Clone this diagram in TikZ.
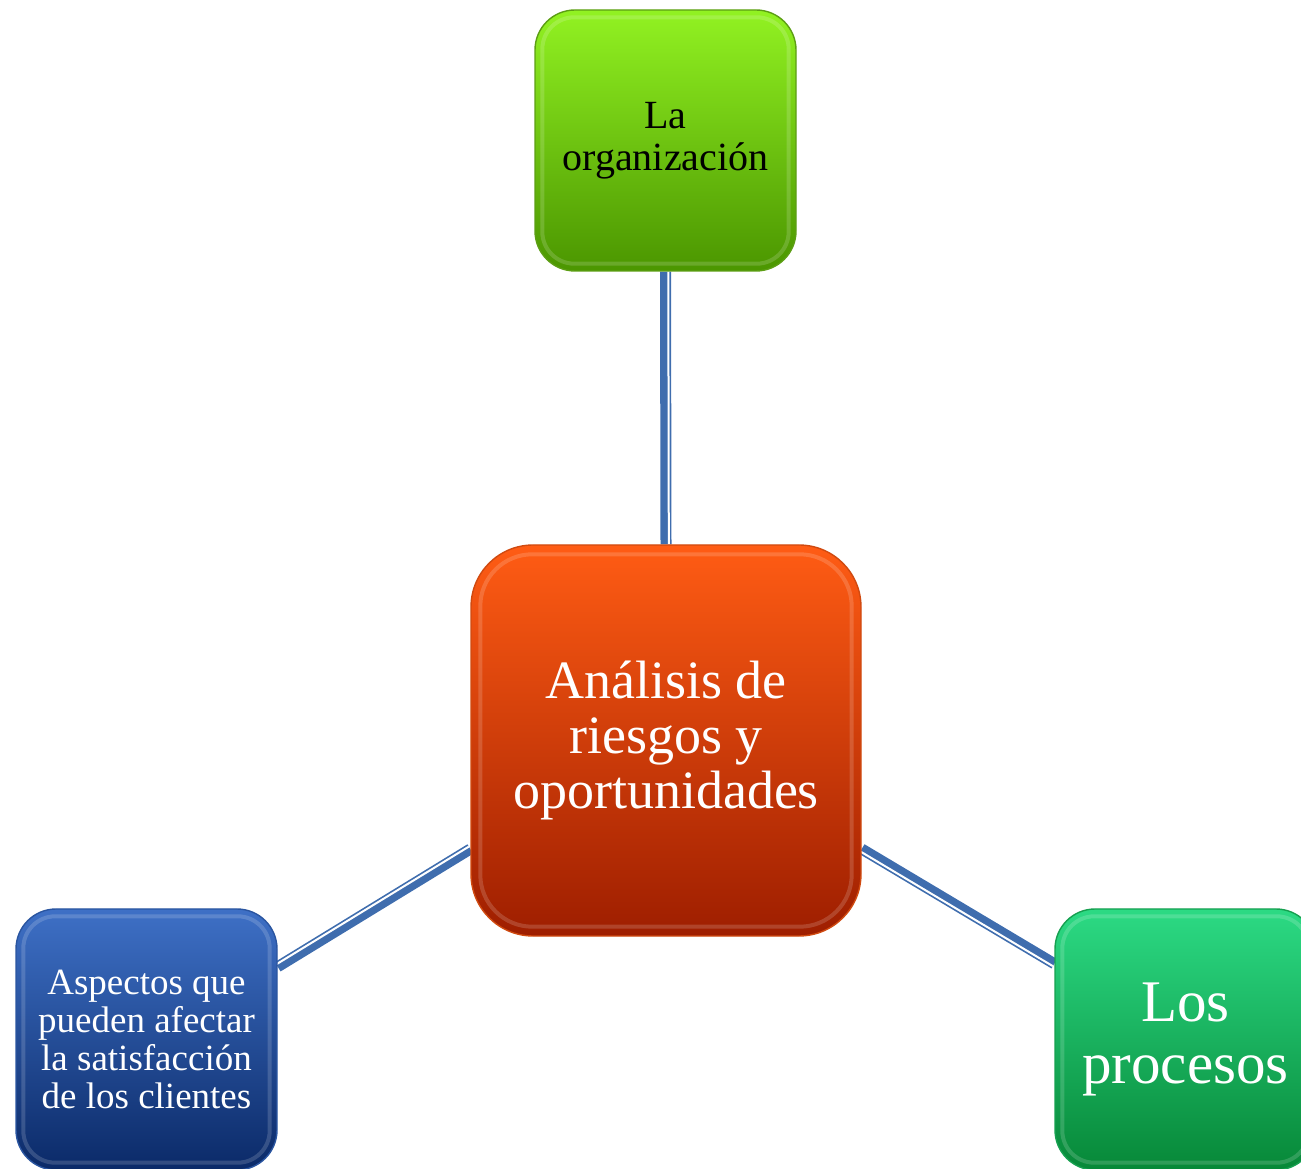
\documentclass[tikz,border=0pt]{standalone}
\usepackage{fontspec}
\setmainfont{Liberation Serif}
\usetikzlibrary{calc}
\pgfdeclarelayer{background}
\pgfsetlayers{background,main}
\definecolor{orgTop}{HTML}{92F222}
\definecolor{orgBot}{HTML}{4B9600}
\definecolor{orgLine}{HTML}{5C9E14}
\definecolor{anTop}{HTML}{FF5C14}
\definecolor{anBot}{HTML}{9E1E00}
\definecolor{anLine}{HTML}{D04A10}
\definecolor{blTop}{HTML}{3E70C6}
\definecolor{blBot}{HTML}{0B2A68}
\definecolor{blLine}{HTML}{2A55A0}
\definecolor{grTop}{HTML}{2CDA84}
\definecolor{grBot}{HTML}{078838}
\definecolor{grLine}{HTML}{16A050}
\definecolor{connBlue}{HTML}{3F6DAE}
\begin{document}
\begin{tikzpicture}[x=1pt,y=1pt,
  box/.style={rounded corners=#1, inner sep=0pt, align=center, line width=1.4pt},
  sqbox/.style={box=40pt, minimum width=261pt, minimum height=261pt},
  conn/.style={draw=connBlue, line width=11pt},
  connhl/.style={draw=white, line width=2pt},
  rim/.style={draw=white, opacity=0.16, line width=4pt}]
\useasboundingbox (0,0) rectangle (1301,1168);
\clip (0,0) rectangle (1301,1168);
% boxes
\node[sqbox, top color=orgTop, bottom color=orgBot, draw=orgLine,
      font=\fontsize{40}{42}\selectfont, text=black] (org) at (665.5,1027.5) {La\\organización};
\node[box=62pt, minimum width=390pt, minimum height=391pt, top color=anTop, bottom color=anBot, draw=anLine,
      font=\fontsize{54}{55}\selectfont, text=white] (an) at (666,427.5) {Análisis de\\riesgos y\\oportunidades};
\node[sqbox, top color=blTop, bottom color=blBot, draw=blLine,
      font=\fontsize{37}{38}\selectfont, text=white] (bl) at (146.5,128.5) {Aspectos que\\pueden afectar\\la satisfacción\\de los clientes};
\node[sqbox, top color=grTop, bottom color=grBot, draw=grLine,
      font=\fontsize{59}{62}\selectfont, text=white] (gr) at (1185.5,128.5) {Los\\procesos};
% inner highlight rims
\draw[rim, rounded corners=32pt] ($(org.south west)+(8,8)$) rectangle ($(org.north east)-(8,8)$);
\draw[rim, rounded corners=52pt] ($(an.south west)+(10,10)$) rectangle ($(an.north east)-(10,10)$);
\draw[rim, rounded corners=32pt] ($(bl.south west)+(8,8)$) rectangle ($(bl.north east)-(8,8)$);
\draw[rim, rounded corners=32pt] ($(gr.south west)+(8,8)$) rectangle ($(gr.north east)-(8,8)$);
% connectors
\begin{pgfonlayer}{background}
\draw[conn] (org.south) -- (an.north);
\draw[connhl] ($(org.south)!2.8pt!90:(an.north)$) -- ($(an.north)!2.8pt!-90:(org.south)$);
\draw[conn] (bl.29.7) -- (an.209.4);
\draw[connhl] ($(bl.29.7)!2.8pt!90:(an.209.4)$) -- ($(an.209.4)!2.8pt!-90:(bl.29.7)$);
\draw[conn] (gr.150.3) -- (an.-29.4);
\draw[connhl] ($(gr.150.3)!2.8pt!90:(an.-29.4)$) -- ($(an.-29.4)!2.8pt!-90:(gr.150.3)$);
\end{pgfonlayer}
\end{tikzpicture}
\end{document}
